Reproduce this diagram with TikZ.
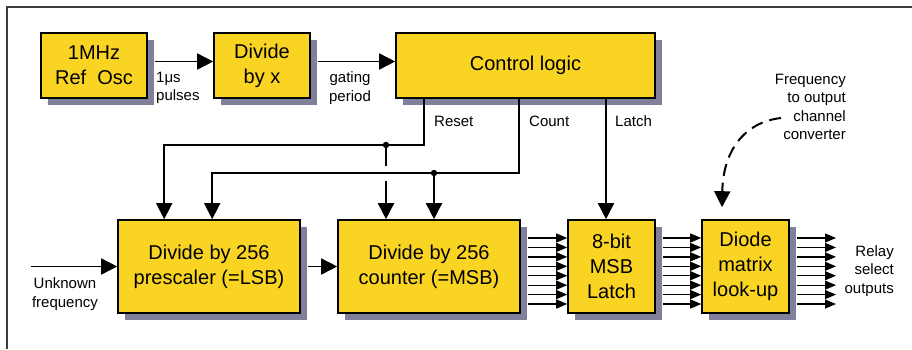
\documentclass[tikz,border=0pt]{standalone}
\usepackage{fontspec}
\setmainfont{Liberation Sans}
\usetikzlibrary{positioning}
\usetikzlibrary{arrows.meta}
\usetikzlibrary{shadows}
\definecolor{BoxYellow}{RGB}{250,212,35}
\definecolor{ShadeBlue}{RGB}{128,128,155}
\definecolor{FrameGray}{RGB}{60,60,60}

\begin{document}
\begin{tikzpicture}
          [
          x=1pt, y=1pt,
          >={Triangle[length=16pt,width=16pt]},
          Box/.style={rectangle, draw=black, fill=BoxYellow, line width=1.6pt, align=center,
                      font=\fontsize{20}{25}\selectfont,
                      general shadow={fill=ShadeBlue, shadow xshift=7pt, shadow yshift=-7pt}},
          Wire/.style={line width=1.6pt},
          Bus/.style={line width=1.3pt, -{Triangle[length=11pt,width=9pt]}},
          Label/.style={font=\fontsize{15}{18.5}\selectfont, inner sep=0pt},
          ]
          \useasboundingbox (0,0) rectangle (912,-349);
          \draw[FrameGray, line width=1.5pt] (7,-349) -- (7,-7) -- (912,-7);

          % Nodes
          \node[Box, minimum width=106pt, minimum height=65pt] (Osc) at (94,-65.5) {1MHz\\Ref~~Osc};
          \node[Box, minimum width=96pt, minimum height=65pt] (Div) at (262,-65.5) {Divide\\by x};
          \node[Box, minimum width=259pt, minimum height=65pt] (Ctrl) at (525.5,-65.5) {Control logic};
          \node[Box, minimum width=182pt, minimum height=93pt] (LSB) at (209,-266.5) {Divide by 256\\prescaler (=LSB)};
          \node[Box, minimum width=182pt, minimum height=93pt] (MSB) at (429,-266.5) {Divide by 256\\counter (=MSB)};
          \node[Box, minimum width=87pt, minimum height=93pt] (Latch) at (611.5,-266.5) {8-bit\\MSB\\Latch};
          \node[Box, minimum width=87pt, minimum height=93pt] (Diode) at (745.5,-266.5) {Diode\\matrix\\look-up};

          % Labels
          \node[Label, align=left, anchor=west] (Pulses) at (156,-88) {1μs\\pulses};
          \node[Label, align=center] (Gating) at (350,-88) {gating\\period};
          \node[Label, anchor=west] (ResetLbl) at (434,-121) {Reset};
          \node[Label, anchor=west] (CountLbl) at (529,-121) {Count};
          \node[Label, anchor=west] (LatchLbl) at (615,-121) {Latch};
          \node[Label, align=center] (Unknown) at (65,-294) {Unknown\\frequency};
          \node[Label, align=right, anchor=east] (Relay) at (894,-271) {Relay\\select\\outputs};
          \node[Label, align=right, anchor=east] (Conv) at (846,-107) {Frequency\\to output\\channel\\converter};

          \coordinate (jr) at (386,-145);
          \coordinate (jc) at (434,-173);
          \coordinate (In) at (31,-266.5);
          \coordinate (Out) at (836,-266.5);
          \coordinate (ConvStart) at (781,-118);

          % Lines
          \path [->, draw, Wire] ([shift={(7pt,4pt)}]Osc.east) -- ([yshift=4pt]Div.west);
          \path [->, draw, Wire] ([shift={(7pt,4pt)}]Div.east) -- ([yshift=4pt]Ctrl.west);
          \path [->, draw, Wire] ([xshift=29pt]Ctrl.south west) |- (jr) -| ([xshift=47pt]LSB.north west);
          \path [->, draw, Wire] ([xshift=124pt]Ctrl.south west) |- (jc) -| ([xshift=95pt]LSB.north west);
          \path [draw, Wire] (jr) -- ++(0,-21);
          \path [->, draw, Wire] ([yshift=-36pt]jr) -- (jr |- MSB.north);
          \path [->, draw, Wire] (jc) -- (jc |- MSB.north);
          \fill (jr) circle (3.2pt);
          \fill (jc) circle (3.2pt);
          \path [->, draw, Wire] ([xshift=-5.5pt]Ctrl.south -| Latch.north) -- ([xshift=-5.5pt]Latch.north);
          \path [->, draw, Wire] (In) -- (LSB.west);
          \path [->, draw, Wire] ([xshift=7pt]LSB.east) -- (MSB.west);
          \path [->, draw, line width=2pt, dash pattern=on 12pt off 7pt]
                (ConvStart) .. controls (745,-122) and (723,-150) .. ([shift={(-23.5pt,12pt)}]Diode.north);

          % Buses
          \foreach \i in {0,...,7}{
            \pgfmathsetmacro\dy{28.5-9.43*\i}
            \draw[Bus] ([shift={(7pt,\dy pt)}]MSB.east) -- ([yshift=\dy pt]Latch.west);
            \draw[Bus] ([shift={(7pt,\dy pt)}]Latch.east) -- ([yshift=\dy pt]Diode.west);
            \draw[Bus] ([shift={(7pt,\dy pt)}]Diode.east) -- ([yshift=\dy pt]Out);
          }

        \end{tikzpicture}
\end{document}
